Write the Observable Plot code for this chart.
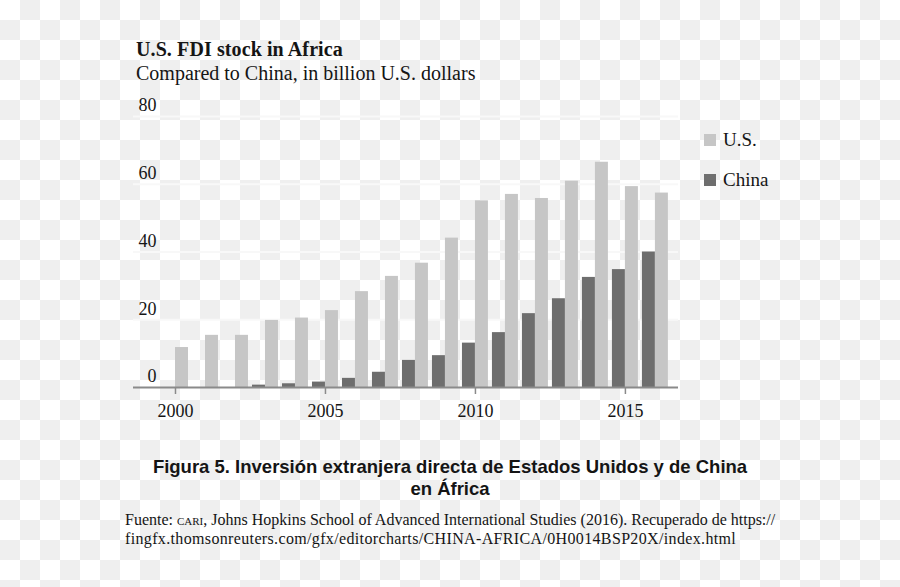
<!DOCTYPE html>
<html>
<head>
<meta charset="utf-8">
<script src="https://cdn.jsdelivr.net/npm/d3@7"></script>
<script src="https://cdn.jsdelivr.net/npm/@observablehq/plot@0.6"></script>
<style>
  html, body { margin: 0; padding: 0; }
  body {
    width: 900px; height: 587px; overflow: hidden; position: relative;
    background: repeating-conic-gradient(#efefef 0% 25%, #ffffff 0% 50%) 0 0 / 40px 40px;
    font-family: "Liberation Serif", serif; color: #151515;
  }
  .abs { position: absolute; white-space: nowrap; line-height: 1; }
  #title { left: 136px; top: 39px; font-size: 20px; font-weight: bold; letter-spacing: 0.1px; }
  #subtitle { left: 136px; top: 63px; font-size: 20px; }
  .leg { position: absolute; display: flex; align-items: center; font-size: 19px; line-height: 1; }
  .sw { width: 12px; height: 12px; margin-right: 7px; }
  #caption { left: 0; width: 900px; top: 456px; text-align: center; font-family: "Liberation Sans", Arial, sans-serif; font-weight: bold; font-size: 18.5px; line-height: 22px; white-space: normal; }
  #source { left: 125px; top: 511px; font-size: 16px; line-height: 18.5px; }
  .l2 { letter-spacing: 0.35px; }
  .sc { font-variant: small-caps; text-transform: lowercase; }
  #chart { position: absolute; left: 0; top: 0; }
</style>
</head>
<body>
<div id="chart"></div>
<div class="abs" id="title">U.S. FDI stock in Africa</div>
<div class="abs" id="subtitle">Compared to China, in billion U.S. dollars</div>
<div id="legend"></div>
<div class="abs" id="caption">Figura 5. Inversión extranjera directa de Estados Unidos y de China<br>en África</div>
<div class="abs" id="source">Fuente: <span class="sc">CARI</span>, Johns Hopkins School of Advanced International Studies (2016). Recuperado de https://<br><span class="l2">fingfx.thomsonreuters.com/gfx/editorcharts/CHINA-AFRICA/0H0014BSP20X/index.html</span></div>
<script>
// ---- data ----
const years = [2000, 2001, 2002, 2003, 2004, 2005, 2006, 2007, 2008, 2009, 2010, 2011, 2012, 2013, 2014, 2015, 2016];
const usValues = [11.8, 15.4, 15.4, 19.8, 20.5, 22.7, 28.3, 32.8, 36.7, 44.1, 55.1, 57.0, 55.8, 60.9, 66.5, 59.3, 57.4];
const chinaValues = [null, null, null, 0.7, 1.1, 1.6, 2.7, 4.5, 8.0, 9.4, 13.1, 16.2, 21.8, 26.2, 32.5, 34.8, 40.0];
const seriesNames = ["U.S.", "China"];
const seriesColors = ["#c6c6c6", "#6e6e6e"];
const yTicks = [0, 20, 40, 60, 80];
const xTicks = [2000, 2005, 2010, 2015];

const rows = years.map((year, i) => ({year, us: usValues[i], china: chinaValues[i]}));
const half = 0.433;

const plot = Plot.plot({
  width: 900,
  height: 420,
  marginLeft: 133,
  marginRight: 222,
  marginTop: 116,
  marginBottom: 33,
  style: {background: "transparent", fontFamily: "Liberation Serif", fontSize: "18px", color: "#151515"},
  x: {type: "linear", domain: [1998.6, 2016.77]},
  y: {domain: [0, 80]},
  marks: [
    Plot.ruleY(yTicks.filter(d => d > 0), {stroke: "#f8f8f8", strokeWidth: 2}),
    Plot.rectY(rows.filter(d => d.china != null), {x1: d => d.year - half, x2: d => d.year, y: "china", fill: seriesColors[1]}),
    Plot.rectY(rows, {x1: d => d.year, x2: d => d.year + half, y: "us", fill: seriesColors[0]}),
    Plot.ruleY([0], {stroke: "#8a8a8a", strokeWidth: 2}),
    Plot.axisY(yTicks, {tickSize: 0, tickPadding: 3, dx: 26, dy: -11, fill: "#151515", fontSize: 18}),
    Plot.axisX(xTicks, {tickSize: 7, tickPadding: 10, stroke: "#8a8a8a", strokeWidth: 1.5, fill: "#151515", fontSize: 18, tickFormat: d => String(d)})
  ]
});
document.getElementById("chart").appendChild(plot);

// legend
const legend = document.getElementById("legend");
const legTops = [130, 170];
seriesNames.forEach((name, i) => {
  const el = document.createElement("div");
  el.className = "leg";
  el.style.left = "704px";
  el.style.top = legTops[i] + "px";
  el.innerHTML = `<div class="sw" style="background:${seriesColors[i]}"></div><span>${name}</span>`;
  legend.appendChild(el);
});
</script>
</body>
</html>
